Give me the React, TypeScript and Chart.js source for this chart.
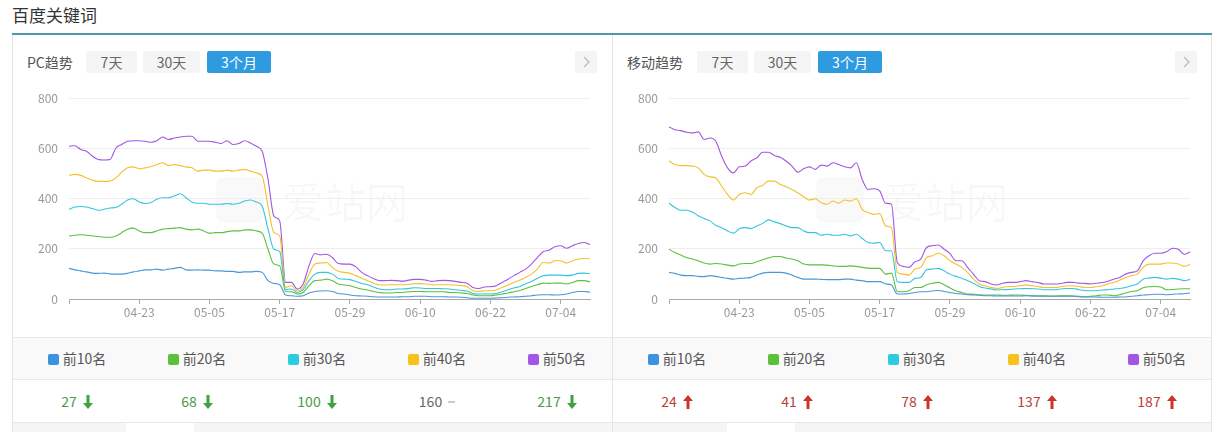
import React, { useEffect, useRef } from "react";
import { Chart, registerables } from "chart.js";

Chart.register(...registerables);

const DATES = [
  "04-11","04-12","04-13","04-14","04-15","04-16","04-17","04-18","04-19","04-20",
  "04-21","04-22","04-23","04-24","04-25","04-26","04-27","04-28","04-29","04-30",
  "05-01","05-02","05-03","05-04","05-05","05-06","05-07","05-08","05-09","05-10",
  "05-11","05-12","05-13","05-14","05-15","05-16","05-17","05-18","05-19","05-20",
  "05-21","05-22","05-23","05-24","05-25","05-26","05-27","05-28","05-29","05-30",
  "05-31","06-01","06-02","06-03","06-04","06-05","06-06","06-07","06-08","06-09",
  "06-10","06-11","06-12","06-13","06-14","06-15","06-16","06-17","06-18","06-19",
  "06-20","06-21","06-22","06-23","06-24","06-25","06-26","06-27","06-28","06-29",
  "06-30","07-01","07-02","07-03","07-04","07-05","07-06","07-07","07-08","07-09",
];

const SERIES_NAMES = ["前10名", "前20名", "前30名", "前40名", "前50名"];
const LINE_COLORS = ["#4a98d8", "#5cbf3e", "#33c6dc", "#f3c12a", "#a157e0"];
const LEGEND_COLORS = ["#3a95de", "#5bc13b", "#2ccbe0", "#f7c21b", "#a355e8"];
const Y_TICKS = [0, 200, 400, 600, 800];

const PC_TOP10 = [122,116,112,108,103,102,103,100,99,99, 102,108,112,116,116,119,115,119,122,126, 116,115,116,115,115,112,112,110,110,106, 108,108,110,106,73,62,57,16,13,11, 13,24,30,32,33,30,22,20,16,13, 12,11,9,8,8,8,8,9,9,11, 11,11,9,9,9,8,8,7,5,3, 3,3,3,4,5,7,8,9,11,13, 16,17,17,16,17,20,26,30,30,27];
const PC_TOP20 = [251,254,256,254,251,249,246,246,251,264, 278,282,271,264,264,271,278,280,282,284, 278,275,278,271,262,264,264,268,271,271, 275,275,271,262,198,139,132,30,29,20, 26,53,73,75,79,73,60,56,53,46, 40,36,30,26,24,24,26,26,29,30, 30,29,29,29,29,26,26,24,22,16, 13,13,13,16,20,24,29,34,42,50, 57,63,62,63,63,60,66,73,73,68];
const PC_TOP30 = [357,366,368,366,360,353,357,362,364,377, 394,399,386,380,384,397,403,403,410,419, 403,386,381,381,377,377,377,380,377,381, 390,394,386,370,278,198,189,37,40,26, 37,73,99,106,106,99,82,79,77,70, 62,57,48,40,37,37,40,40,42,45, 44,42,42,42,41,40,37,34,32,22, 20,20,20,22,29,37,44,50,60,70, 82,93,95,95,95,93,95,102,103,100];
const PC_TOP40 = [492,496,492,482,473,468,468,469,482,505, 522,526,518,522,526,535,542,531,535,531, 526,522,509,513,513,509,509,513,509,513, 516,509,502,489,370,264,251,46,53,33, 46,99,139,143,145,126,110,106,102,93, 83,73,63,56,56,57,57,57,58,61, 61,60,57,57,57,56,56,53,49,33, 30,33,33,36,46,56,66,75,86,99, 119,145,143,152,152,143,152,159,161,160];
const PC_TOP50 = [608,610,595,588,568,555,553,555,600,615, 628,630,630,628,624,630,645,635,641,645, 648,648,628,628,628,624,619,630,615,619, 630,621,608,588,476,330,310,66,66,40, 60,132,181,176,178,165,141,139,139,128, 106,93,82,73,73,74,73,71,75,78, 78,75,70,73,74,73,70,66,63,46, 42,48,49,53,66,79,93,106,119,139, 165,188,194,208,212,202,212,221,225,217];

const M_TOP10 = [106,102,95,93,93,90,89,93,90,86, 82,79,82,83,86,95,103,106,106,106, 103,95,86,79,79,79,78,77,77,77, 79,79,75,73,69,69,69,60,56,20, 20,22,26,29,29,32,34,30,26,22, 20,17,16,15,13,13,12,12,12,12, 12,13,12,11,11,11,11,11,11,11, 9,8,8,8,7,7,7,8,8,11, 13,16,17,19,19,17,19,20,21,24];
const M_TOP20 = [198,185,175,165,159,152,143,139,141,139, 135,132,139,141,141,148,156,163,169,169, 163,159,152,139,136,136,136,135,132,130, 130,132,130,126,123,122,122,99,103,29, 29,33,46,46,57,63,66,57,44,33, 26,20,19,17,16,16,16,15,15,16, 16,15,13,13,13,12,12,13,13,12, 11,9,11,13,16,16,13,17,24,30, 33,45,49,50,48,37,38,40,41,41];
const M_TOP30 = [381,364,353,353,346,331,320,311,293,284, 271,262,280,284,280,291,301,315,307,300, 291,284,284,271,264,264,254,258,254,254, 258,251,258,241,225,222,225,192,192,69, 66,66,82,86,116,119,122,112,99,90, 83,73,63,50,44,40,36,37,38,40, 41,42,41,40,37,37,37,40,42,42, 37,34,33,34,36,37,40,42,46,53, 60,79,83,86,83,79,82,79,73,78];
const M_TOP40 = [549,535,531,531,529,522,496,486,482,449, 416,394,416,423,416,443,452,469,469,456, 447,436,423,407,394,399,383,377,390,381, 394,390,399,357,344,337,340,291,284,106, 99,95,119,126,165,172,182,172,152,139, 126,106,79,60,53,46,42,46,50,50, 53,56,53,50,46,46,46,49,53,53, 50,46,46,49,53,60,66,75,86,93, 99,126,139,139,139,143,143,139,130,137];
const M_TOP50 = [685,674,670,664,661,665,635,641,628,568, 522,502,526,529,549,562,584,584,571,564, 549,529,505,518,526,516,533,529,542,535, 526,522,542,476,436,439,430,381,377,145, 130,126,148,159,205,212,215,198,181,152, 152,126,99,73,69,60,56,63,66,66, 69,73,69,66,60,60,60,62,66,66, 63,62,60,63,66,71,79,86,99,106, 112,152,172,182,182,188,202,198,178,187];

const PC_LATEST = ["27", "68", "100", "160", "217"];
const PC_TREND = ["down", "down", "down", "flat", "down"];
const M_LATEST = ["24", "41", "78", "137", "187"];
const M_TREND = ["up", "up", "up", "up", "up"];

const FONT = '"Noto Sans CJK SC", "Noto Sans", sans-serif';

function LineChart({ series }: { series: number[][] }) {
  const ref = useRef<HTMLCanvasElement | null>(null);
  useEffect(() => {
    if (!ref.current) return;
    const chart = new Chart(ref.current, {
      type: "line",
      data: {
        labels: DATES,
        datasets: series.map((d, i) => ({
          label: SERIES_NAMES[i],
          data: d,
          borderColor: LINE_COLORS[i],
          borderWidth: 1.1,
          pointRadius: 0,
          fill: false,
          tension: 0.4,
          cubicInterpolationMode: "monotone" as const,
        })),
      },
      options: {
        responsive: false,
        animation: false,
        layout: { padding: { top: 13, right: 22, left: 0, bottom: 0 } },
        plugins: { legend: { display: false }, tooltip: { enabled: false } },
        scales: {
          x: {
            offset: false,
            afterFit: (s: any) => { s.height = 26; s.paddingLeft = 0; s.paddingRight = 0; },
            border: { display: true, color: "#aaaaaa" },
            grid: {
              display: true,
              drawOnChartArea: false,
              drawTicks: true,
              tickLength: 5,
              tickColor: (ctx: any) => (ctx.index % 12 === 0 ? "#aaaaaa" : "rgba(0,0,0,0)"),
            },
            ticks: {
              autoSkip: false,
              maxRotation: 0,
              padding: 1,
              color: "#999999",
              font: { family: FONT, size: 12 },
              callback: (_v: any, idx: number) => (idx % 12 === 0 && idx > 0 ? DATES[idx] : ""),
            },
          },
          y: {
            min: 0,
            max: 800,
            afterFit: (s: any) => { s.width = 57; s.paddingTop = 0; s.paddingBottom = 0; },
            afterBuildTicks: (s: any) => { s.ticks = Y_TICKS.map((v) => ({ value: v })); },
            border: { display: false },
            grid: { color: "#eeeeee", drawTicks: false },
            ticks: {
              padding: 11,
              color: "#999999",
              font: { family: FONT, size: 12 },
            },
          },
        },
      },
    });
    return () => chart.destroy();
  }, [series]);
  return <canvas ref={ref} width={600} height={240} style={{ width: 600, height: 240, display: "block" }} />;
}

function Arrow({ dir }: { dir: string }) {
  if (dir === "flat") {
    return <span style={{ display: "inline-block", width: 7, height: 1.5, background: "#cccccc", marginLeft: 6, verticalAlign: "middle", position: "relative", top: -1 }} />;
  }
  const color = dir === "down" ? "#3ea33e" : "#c9352b";
  const path = dir === "down"
    ? "M3.5 0 H6.5 V8 H10 L5 14 L0 8 H3.5 Z"
    : "M3.5 14 H6.5 V6 H10 L5 0 L0 6 H3.5 Z";
  return (
    <svg width={10} height={14} viewBox="0 0 10 14" style={{ marginLeft: 6, verticalAlign: "middle", position: "relative", top: -1 }}>
      <path d={path} fill={color} />
    </svg>
  );
}

function Panel({ left, title, series, latest, trend, tabLeft }: any) {
  const btnBase: React.CSSProperties = {
    position: "absolute", top: 51, height: 22, lineHeight: "22px", textAlign: "center",
    fontSize: 14, color: "#666", background: "#f5f5f5", borderRadius: 2,
  };
  const isPC = title === "PC趋势";
  const b1 = isPC ? 74 : 85;
  return (
    <div style={{ position: "absolute", left, top: 36, width: 600, height: 396 }}>
      <div style={{ position: "absolute", left: 15, top: 15, fontSize: 14, color: "#555", lineHeight: "22px" }}>{title}</div>
      <div style={{ ...btnBase, top: 15, left: b1, width: 51 }}>7天</div>
      <div style={{ ...btnBase, top: 15, left: b1 + 57, width: 57 }}>30天</div>
      <div style={{ ...btnBase, top: 15, left: b1 + 121, width: 64, background: "#2e9be0", color: "#fff" }}>3个月</div>
      <div style={{ ...btnBase, top: 15, left: 563, width: 22, background: "#f5f5f5" }}>
        <svg width={22} height={22} viewBox="0 0 22 22" style={{ display: "block" }}>
          <path d="M9 6 L14 11 L9 16" stroke="#bbbbbb" strokeWidth={1.3} fill="none" />
        </svg>
      </div>
      {/* watermark */}
      <div style={{ position: "absolute", left: 204, top: 141, width: 48, height: 46, background: "rgba(0,0,0,0.022)", borderRadius: 8 }} />
      <div style={{ position: "absolute", left: 270, top: 136, fontSize: 42, lineHeight: "56px", color: "rgba(0,0,0,0.03)", fontFamily: FONT }}>爱站网</div>
      <div style={{ position: "absolute", left: 0, top: 49 }}>
        <LineChart series={series} />
      </div>
      {/* legend row */}
      <div style={{ position: "absolute", left: 0, top: 301, width: 600, height: 41, background: "#f9f9f9", borderTop: "1px solid #e8e8e8", borderBottom: "1px solid #e8e8e8" }}>
        {SERIES_NAMES.map((n, i) => (
          <div key={n} style={{ position: "absolute", left: 5 + i * 120, width: 120, top: 0, height: 41, lineHeight: "41px", textAlign: "center", fontSize: 14, color: "#555" }}>
            <span style={{ display: "inline-block", width: 11, height: 11, borderRadius: 2, background: LEGEND_COLORS[i], marginRight: 4, verticalAlign: "middle", position: "relative", top: -1 }} />
            {n}
          </div>
        ))}
      </div>
      {/* values row */}
      <div style={{ position: "absolute", left: 0, top: 344, width: 600, height: 42 }}>
        {latest.map((v: string, i: number) => {
          const t = trend[i];
          const color = t === "down" ? "#4b9a45" : t === "up" ? "#b8403a" : "#666666";
          return (
            <div key={i} style={{ position: "absolute", left: 5 + i * 120, width: 120, top: 0, height: 42, lineHeight: "42px", textAlign: "center", fontSize: 14, color }}>
              {v}
              <Arrow dir={t} />
            </div>
          );
        })}
      </div>
      <div style={{ position: "absolute", left: 0, top: 386, width: 600, height: 10, background: "#f5f5f5", borderTop: "1px solid #e8e8e8" }}>
        <div style={{ position: "absolute", left: tabLeft, width: 68, top: 0, height: 10, background: "#ffffff" }} />
      </div>
    </div>
  );
}

export default function App() {
  return (
    <div style={{ position: "fixed", left: 0, top: 0, width: 1225, height: 432, background: "#fff", fontFamily: FONT, overflow: "hidden" }}>
      <div style={{ position: "absolute", left: 12, top: 4, fontSize: 17, color: "#333", lineHeight: "22px" }}>百度关键词</div>
      <div style={{ position: "absolute", left: 12, top: 33, width: 1200, height: 2, background: "#5097aa" }} />
      <Panel left={12} title="PC趋势" series={[PC_TOP10, PC_TOP20, PC_TOP30, PC_TOP40, PC_TOP50]} latest={PC_LATEST} trend={PC_TREND} tabLeft={114} />
      <Panel left={612} title="移动趋势" series={[M_TOP10, M_TOP20, M_TOP30, M_TOP40, M_TOP50]} latest={M_LATEST} trend={M_TREND} tabLeft={115} />
      <div style={{ position: "absolute", left: 12, top: 35, width: 1, height: 397, background: "#e5e5e5" }} />
      <div style={{ position: "absolute", left: 612, top: 35, width: 1, height: 397, background: "#e5e5e5" }} />
      <div style={{ position: "absolute", left: 1211, top: 35, width: 1, height: 397, background: "#e5e5e5" }} />
    </div>
  );
}
